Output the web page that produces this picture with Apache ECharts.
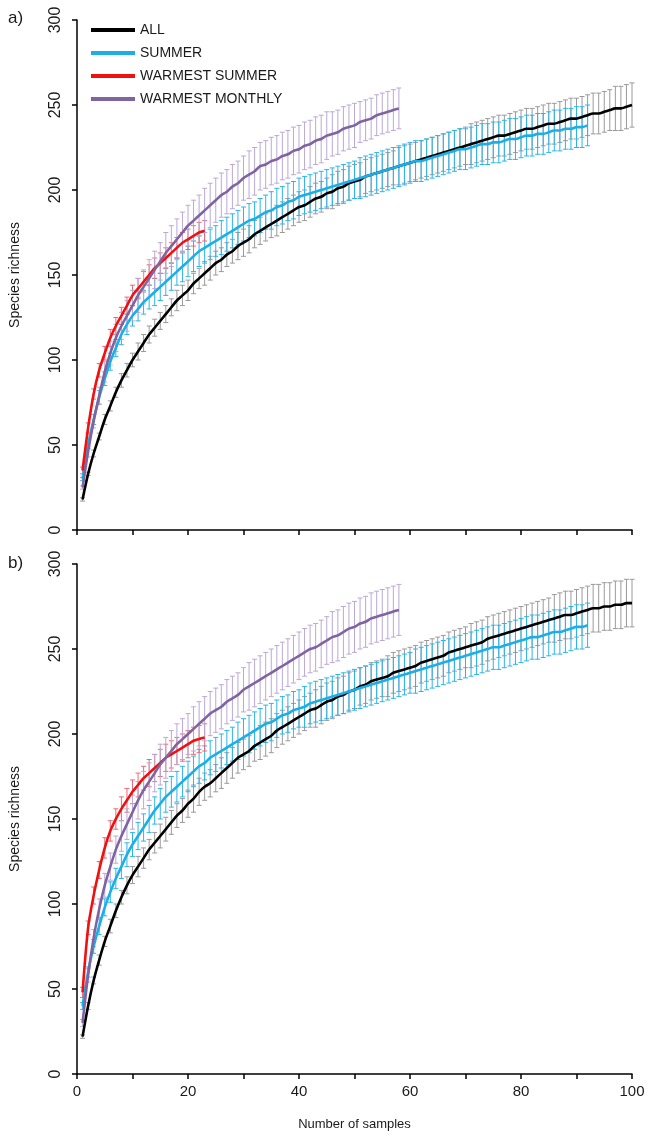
<!DOCTYPE html>
<html><head><meta charset="utf-8">
<script src="https://cdn.jsdelivr.net/npm/echarts@6/dist/echarts.min.js"></script>
<style>html,body{margin:0;padding:0;background:#fff}#c{width:652px;height:1143px}</style>
</head><body><div id="c"></div>
<script>
const SERIES_NAMES = ['ALL', 'SUMMER', 'WARMEST SUMMER', 'WARMEST MONTHLY'];
const PANEL_LABELS = ['a)', 'b)'];
const Y_TICKS = [0, 50, 100, 150, 200, 250, 300];
const X_TICK_LABELS = [0, 20, 40, 60, 80, 100];

// ---- Panel a: mean richness per sample count (x = 1..N)
const ALL_A = [18,33,45,55,65,73,81,88,94,100,
  105,110,115,119,123,127,131,135,138,141,
  145,148,151,154,157,159,162,164,167,169,
  171,174,176,178,180,182,184,186,188,190,
  191,193,195,196,198,199,201,202,204,205,
  206,208,209,210,211,212,213,214,215,216,
  217,218,219,220,221,222,223,224,225,226,
  227,228,229,230,231,232,232,233,234,235,
  236,236,237,238,239,239,240,241,242,242,
  243,244,245,245,246,247,248,248,249,250];
const SUMMER_A = [30,50,65,78,89,99,107,115,121,126,
  130,134,137,140,143,146,149,152,155,158,
  161,164,166,168,170,172,174,176,178,180,
  182,183,185,187,188,190,191,193,194,196,
  197,198,199,200,201,202,203,204,205,206,
  207,208,209,210,211,212,213,214,215,216,
  217,217,218,219,220,221,222,223,224,224,
  225,226,227,227,228,228,229,230,230,231,
  232,232,233,233,234,235,235,236,236,237,
  237,238];
const WSUMMER_A = [35,60,80,94,104,113,120,126,132,138,
  142,146,150,154,157,160,163,166,169,171,
  173,175,176];
const WMONTHLY_A = [25,46,64,79,93,104,113,120,126,132,
  138,143,148,153,158,163,167,171,175,179,
  182,185,188,191,194,197,199,202,204,207,
  209,211,214,215,217,218,220,221,223,224,
  226,227,229,230,232,233,234,236,237,238,
  240,241,242,244,245,246,247,248];

// ---- Panel a: error half-widths
const ERR_ALL_A = [1,1,2,2,3,3,3,4,4,4,
  5,5,5,5,5,5,5,6,6,6,
  6,6,7,7,7,7,7,7,8,8,
  8,8,8,8,8,9,9,9,9,9,
  9,9,9,9,9,10,10,10,10,10,
  10,10,10,10,10,10,10,11,11,11,
  11,11,11,11,11,11,11,11,11,11,
  12,12,12,12,12,12,12,12,12,12,
  12,12,12,12,12,12,12,12,12,12,
  12,12,12,12,12,12,13,13,13,13];
const ERR_SUMMER_A = [1,2,3,4,4,5,5,6,6,6,
  7,7,7,8,8,8,8,8,9,9,
  9,9,9,9,9,10,10,10,10,10,
  10,10,10,10,11,11,11,11,11,11,
  11,11,11,11,11,11,11,11,11,11,
  12,12,12,12,12,12,12,12,12,12,
  12,12,12,12,12,12,12,12,12,12,
  12,12,12,12,12,12,12,12,12,12,
  12,12,12,12,12,12,12,12,12,12,
  12,12];
const ERR_WSUMMER_A = [2,3,3,4,4,5,5,5,5,6,
  6,6,6,6,6,6,6,6,6,6,
  6,6,6];
const ERR_WMONTHLY_A = [1,3,4,5,6,7,8,8,9,9,
  10,10,11,11,11,12,12,12,12,12,
  12,12,13,13,13,13,13,13,13,13,
  14,14,14,14,14,14,14,14,14,14,
  14,14,14,14,14,13,13,13,13,13,
  12,12,12,12,12,12,12,12];

// ---- Panel b: mean richness
const ALL_B = [22,40,55,67,78,87,96,104,111,117,
  122,127,132,136,140,144,148,152,155,159,
  162,166,169,171,174,177,180,183,186,188,
  190,193,195,197,199,202,204,206,208,210,
  212,214,215,217,219,220,222,223,225,226,
  228,229,231,232,233,234,236,237,238,239,
  240,242,243,244,245,246,248,249,250,251,
  252,253,254,256,257,258,259,260,261,262,
  263,264,265,266,267,268,269,270,270,271,
  272,273,274,274,275,275,276,276,277,277];
const SUMMER_B = [40,60,75,87,98,107,115,122,129,135,
  140,145,150,155,159,163,166,169,172,175,
  178,181,183,186,188,190,192,194,196,198,
  200,202,204,206,207,209,211,212,214,215,
  216,218,219,220,221,222,223,224,225,226,
  227,228,229,230,231,232,233,234,235,236,
  237,238,239,240,241,242,243,244,245,246,
  247,248,249,250,251,251,252,253,254,255,
  256,257,257,258,259,260,260,261,262,263,
  263,264];
const WSUMMER_B = [48,86,105,120,133,143,150,156,161,166,
  170,174,177,180,183,186,188,190,192,194,
  196,197,198];
const WMONTHLY_B = [30,58,80,97,111,122,132,140,147,154,
  161,167,172,177,182,186,190,194,197,200,
  203,206,209,212,214,216,219,221,223,226,
  228,230,232,234,236,238,240,242,244,246,
  248,250,251,253,255,257,258,260,262,263,
  265,266,268,269,270,271,272,273];

// ---- Panel b: error half-widths
const ERR_ALL_B = [1,2,2,3,3,4,4,4,5,5,
  6,6,6,6,7,7,7,7,7,8,
  8,8,8,8,8,9,9,9,9,9,
  9,9,10,10,10,10,10,10,10,10,
  10,10,11,11,11,11,11,11,11,11,
  11,11,11,11,11,12,12,12,12,12,
  12,12,12,12,12,12,12,12,12,12,
  13,13,13,13,13,13,13,13,13,13,
  13,13,13,13,13,14,14,14,14,14,
  14,14,14,14,14,14,14,14,14,14];
const ERR_SUMMER_B = [2,3,4,5,5,6,6,7,7,7,
  8,8,8,8,9,9,9,9,9,9,
  9,10,10,10,10,10,10,10,11,11,
  11,11,11,11,11,11,11,11,11,11,
  12,12,12,12,12,12,12,12,12,12,
  12,12,12,12,12,12,12,12,12,12,
  13,13,13,13,13,13,13,13,13,13,
  13,13,13,13,13,13,13,13,13,13,
  13,13,13,13,13,13,13,13,13,13,
  13,13];
const ERR_WSUMMER_B = [3,4,5,5,6,6,6,7,7,7,
  7,7,8,8,8,8,8,8,8,8,
  8,8,8];
const ERR_WMONTHLY_B = [2,4,5,6,7,8,8,9,9,10,
  11,11,11,11,12,12,12,12,12,12,
  13,13,13,13,13,13,13,13,13,13,
  14,14,14,14,14,14,14,14,14,14,
  14,14,14,14,14,15,15,15,15,15,
  15,15,15,15,15,15,15,15];

const LINE_COLORS = ['#000000', '#1EAEE6', '#F01010', '#8064A2'];
const BAR_COLORS = ['#9A9A9A', '#2CB4EA', '#E86A78', '#BBA8D6'];
const FONT = 'Liberation Sans, Arial, sans-serif';

function pts(arr) { return arr.map((v, i) => [i + 1, v]); }
function bars(arr, err) { return arr.map((v, i) => [i + 1, v - err[i], v + err[i]]); }

function renderErr(params, api) {
  const x = api.value(0), lo = api.value(1), hi = api.value(2);
  const p1 = api.coord([x, hi]), p2 = api.coord([x, lo]);
  const w = 2.5;
  const style = { stroke: api.visual('color'), lineWidth: 1 };
  return { type: 'group', children: [
    { type: 'line', shape: { x1: p1[0], y1: p1[1], x2: p2[0], y2: p2[1] }, style },
    { type: 'line', shape: { x1: p1[0] - w, y1: p1[1], x2: p1[0] + w, y2: p1[1] }, style },
    { type: 'line', shape: { x1: p2[0] - w, y1: p2[1], x2: p2[0] + w, y2: p2[1] }, style }
  ]};
}

const panels = [
  { means: [ALL_A, SUMMER_A, WSUMMER_A, WMONTHLY_A], errs: [ERR_ALL_A, ERR_SUMMER_A, ERR_WSUMMER_A, ERR_WMONTHLY_A] },
  { means: [ALL_B, SUMMER_B, WSUMMER_B, WMONTHLY_B], errs: [ERR_ALL_B, ERR_SUMMER_B, ERR_WSUMMER_B, ERR_WMONTHLY_B] }
];

const series = [];
panels.forEach((p, pi) => {
  p.means.forEach((m, si) => {
    series.push({
      type: 'custom', name: SERIES_NAMES[si] + ' err', xAxisIndex: pi, yAxisIndex: pi,
      renderItem: renderErr, data: bars(m, p.errs[si]), encode: { x: 0, y: [1, 2] },
      itemStyle: { color: BAR_COLORS[si] }, z: 2 + si, silent: true, animation: false
    });
  });
  p.means.forEach((m, si) => {
    series.push({
      type: 'line', name: SERIES_NAMES[si], xAxisIndex: pi, yAxisIndex: pi,
      data: pts(m), showSymbol: false, symbol: 'none', smooth: 0.3,
      lineStyle: { color: LINE_COLORS[si], width: 2.6 }, itemStyle: { color: LINE_COLORS[si] },
      z: 10 + si, animation: false
    });
  });
});

function xAxisCfg(gi, showLabels) {
  return {
    type: 'value', gridIndex: gi, min: 0, max: 100, interval: 10,
    axisLine: { show: true, onZero: false, lineStyle: { color: '#000', width: 1.5 } },
    axisTick: { show: true, length: 5, lineStyle: { color: '#000', width: 1.5 } },
    splitLine: { show: false },
    axisLabel: { show: showLabels, fontFamily: FONT, fontSize: 15, color: '#1a1a1a', margin: 10,
      formatter: v => X_TICK_LABELS.indexOf(v) >= 0 ? String(v) : '' },
    name: showLabels ? 'Number of samples' : '', nameLocation: 'middle', nameGap: 44,
    nameTextStyle: { fontFamily: FONT, fontSize: 13, color: '#1a1a1a' }
  };
}
function yAxisCfg(gi) {
  return {
    type: 'value', gridIndex: gi, min: 0, max: 300, interval: 50,
    axisLine: { show: true, lineStyle: { color: '#000', width: 1.5 } },
    axisTick: { show: true, length: 5, lineStyle: { color: '#000', width: 1.5 } },
    splitLine: { show: false },
    axisLabel: { rotate: 90, fontFamily: FONT, fontSize: 16, color: '#1a1a1a', margin: 13,
      formatter: v => Y_TICKS.indexOf(v) >= 0 ? String(v) : '' },
    name: 'Species richness', nameLocation: 'middle', nameGap: 55, nameRotate: 90,
    nameTextStyle: { fontFamily: FONT, fontSize: 14, color: '#1a1a1a' }
  };
}

const chart = echarts.init(document.getElementById('c'), null, { renderer: 'canvas' });
chart.setOption({
  animation: false,
  backgroundColor: '#fff',
  grid: [
    { left: 76, top: 20, width: 556, height: 510 },
    { left: 76, top: 564, width: 556, height: 510 }
  ],
  xAxis: [xAxisCfg(0, false), xAxisCfg(1, true)],
  yAxis: [yAxisCfg(0), yAxisCfg(1)],
  legend: {
    data: SERIES_NAMES, orient: 'vertical', left: 86, top: 18, icon: 'rect',
    itemWidth: 44, itemHeight: 4, itemGap: 9,
    textStyle: { fontFamily: FONT, fontSize: 14, color: '#1a1a1a', lineHeight: 14 }
  },
  graphic: [
    { type: 'text', left: 8, top: 10, style: { text: PANEL_LABELS[0], font: '17px ' + FONT, fill: '#1a1a1a' } },
    { type: 'text', left: 8, top: 555, style: { text: PANEL_LABELS[1], font: '17px ' + FONT, fill: '#1a1a1a' } }
  ],
  series: series
});
</script></body></html>
